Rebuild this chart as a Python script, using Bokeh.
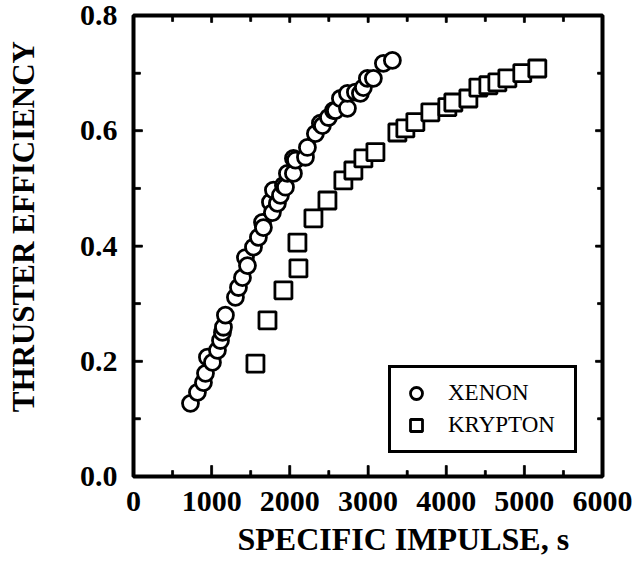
from bokeh.plotting import figure
from bokeh.models import (LinearAxis, FixedTicker, NumeralTickFormatter,
                          CustomJSTickFormatter, Range1d, Legend, LegendItem,
                          ColumnDataSource, Title)
from bokeh.embed import file_html
from bokeh.resources import INLINE

# ---- data ----
xenon_isp = [729, 818, 895, 921, 946, 1010, 1074, 1113, 1138, 1151, 1176, 1304, 1343,
             1394, 1432, 1458, 1535, 1598, 1650, 1662, 1752, 1777, 1790, 1841, 1880,
             1918, 1944, 1969, 2046, 2046, 2072, 2200, 2225, 2327, 2391, 2417, 2494,
             2558, 2583, 2647, 2737, 2737, 2839, 2903, 2941, 2992, 3069, 3197, 3312]
xenon_eff = [0.127, 0.146, 0.163, 0.179, 0.207, 0.198, 0.219, 0.236, 0.250, 0.259, 0.280,
             0.311, 0.328, 0.345, 0.380, 0.366, 0.398, 0.415, 0.441, 0.432, 0.476, 0.458,
             0.497, 0.474, 0.488, 0.505, 0.502, 0.526, 0.552, 0.526, 0.549, 0.554, 0.571,
             0.595, 0.613, 0.609, 0.623, 0.635, 0.635, 0.656, 0.639, 0.665, 0.667, 0.665,
             0.675, 0.691, 0.691, 0.717, 0.722]

krypton_isp = [1560, 1714, 1918, 2110, 2097, 2302, 2481, 2685, 2813, 2941, 3095, 3376,
               3478, 3606, 3798, 4015, 4092, 4284, 4412, 4540, 4655, 4783, 4974, 5166]
krypton_eff = [0.196, 0.271, 0.323, 0.361, 0.406, 0.448, 0.479, 0.514, 0.531, 0.552,
               0.563, 0.597, 0.604, 0.615, 0.632, 0.641, 0.649, 0.656, 0.675, 0.679,
               0.684, 0.691, 0.700, 0.708]

# tick values
x_major = [0, 1000, 2000, 3000, 4000, 5000, 6000]
x_minor = [500, 1500, 2500, 3500, 4500, 5500]
y_major = [0.0, 0.2, 0.4, 0.6, 0.8]
y_minor = [0.1, 0.3, 0.5, 0.7]
X_MIN, X_MAX = 0, 6000
Y_MIN, Y_MAX = 0.0, 0.8

x_title = "SPECIFIC IMPULSE,   s"
y_title = "THRUSTER  EFFICIENCY"
series_names = ["XENON", "KRYPTON"]

FONT = "Liberation Serif"
NBSP = "\u00a0"

W, H = 636, 568
BL, BR, BT, BB = 133, 34, 15, 92
FRAME_W, FRAME_H = W - BL - BR, H - BT - BB

p = figure(width=W, height=H, output_backend="svg", toolbar_location=None,
           x_range=Range1d(X_MIN, X_MAX), y_range=Range1d(Y_MIN, Y_MAX),
           x_axis_location=None, y_axis_location=None,
           min_border_left=BL, min_border_right=BR, min_border_top=BT,
           min_border_bottom=BB)
p.grid.visible = False
p.outline_line_color = "black"
p.outline_line_width = 4
p.outline_line_alpha = 1.0
p.background_fill_color = None
p.border_fill_color = None


def style_axis(ax, major, minor, show_labels, tin, tmin):
    ax.ticker = FixedTicker(ticks=major, minor_ticks=minor)
    ax.axis_line_color = None
    ax.major_tick_line_color = "black"
    ax.minor_tick_line_color = "black"
    ax.major_tick_line_width = 2
    ax.minor_tick_line_width = 2
    ax.major_tick_in = tin
    ax.major_tick_out = 0
    ax.minor_tick_in = tmin
    ax.minor_tick_out = 0
    ax.major_label_text_font = FONT
    ax.major_label_text_font_style = "bold"
    ax.major_label_text_color = "black"
    ax.axis_label_text_font = FONT
    ax.axis_label_text_font_style = "bold"
    ax.axis_label_text_color = "black"
    if not show_labels:
        ax.formatter = CustomJSTickFormatter(code="return ''")
        ax.major_label_text_font_size = "1px"
        ax.major_label_standoff = 0


xb = LinearAxis()
style_axis(xb, x_major, x_minor, True, 11, 6)
xb.major_label_text_font_size = "30px"
xb.major_label_standoff = 15
p.add_layout(xb, "below")

xt = LinearAxis()
style_axis(xt, x_major, x_minor, False, 7, 6)
p.add_layout(xt, "above")

yl = LinearAxis(axis_label=NBSP * 6 + y_title)
style_axis(yl, y_major, y_minor, True, 9, 7)
yl.formatter = NumeralTickFormatter(format="0.0")
yl.major_label_text_font_size = "30px"
yl.major_label_standoff = 16
yl.axis_label_text_font_size = "31px"
yl.axis_label_standoff = 36
p.add_layout(yl, "left")

yr = LinearAxis()
style_axis(yr, y_major, y_minor, False, 7, 5)
p.add_layout(yr, "right")

# inward tick marks as short bars inside the frame (data units derived from pixel lengths)
PX_X = (X_MAX - X_MIN) / FRAME_W   # data units per pixel
PX_Y = (Y_MAX - Y_MIN) / FRAME_H

tick_x, tick_y, tick_w, tick_h = [], [], [], []


def add_vticks(xs, y_edge, length_px, direction):
    for xv in xs:
        tick_x.append(xv)
        tick_y.append(y_edge + direction * length_px * PX_Y / 2)
        tick_w.append(2 * PX_X)
        tick_h.append(length_px * PX_Y)


def add_hticks(ys, x_edge, length_px, direction):
    for yv in ys:
        tick_x.append(x_edge + direction * length_px * PX_X / 2)
        tick_y.append(yv)
        tick_w.append(length_px * PX_X)
        tick_h.append(2 * PX_Y)


add_vticks(x_major, Y_MIN, 11, +1)
add_vticks(x_minor, Y_MIN, 6, +1)
add_vticks(x_major, Y_MAX, 7, -1)
add_vticks(x_minor, Y_MAX, 6, -1)
add_hticks(y_major, X_MIN, 9, +1)
add_hticks(y_minor, X_MIN, 7, +1)
add_hticks(y_major, X_MAX, 7, -1)
add_hticks(y_minor, X_MAX, 5, -1)

tick_src = ColumnDataSource(dict(x=tick_x, y=tick_y, w=tick_w, h=tick_h))
p.rect("x", "y", width="w", height="h", source=tick_src,
       fill_color="black", line_color="black", line_width=0.5, level="overlay")

tx = Title(text=x_title, align="left", offset=104, standoff=10,
           text_font=FONT, text_font_style="bold", text_font_size="32px",
           text_color="black")
p.add_layout(tx, "below")

xe_src = ColumnDataSource(dict(x=xenon_isp, y=xenon_eff))
kr_src = ColumnDataSource(dict(x=krypton_isp, y=krypton_eff))

r_kr = p.scatter("x", "y", source=kr_src, marker="square", size=17,
                 fill_color="white", line_color="black", line_width=2.8)
r_xe = p.scatter("x", "y", source=xe_src, marker="circle", size=16,
                 fill_color="white", line_color="black", line_width=2.8)

legend = Legend(items=[LegendItem(label=series_names[0], renderers=[r_xe]),
                       LegendItem(label=series_names[1], renderers=[r_kr])],
                location=(255, 23))
legend.border_line_color = "black"
legend.border_line_width = 3.5
legend.border_line_alpha = 1.0
legend.background_fill_color = None
legend.label_text_font = FONT
legend.label_text_font_size = "23px"
legend.label_text_color = "black"
legend.glyph_width = 30
legend.glyph_height = 30
legend.label_standoff = 17
legend.label_width = 116
legend.padding = 10
legend.spacing = 2
legend.margin = 0
p.add_layout(legend, "center")

open("out.html", "w").write(file_html(p, INLINE))
